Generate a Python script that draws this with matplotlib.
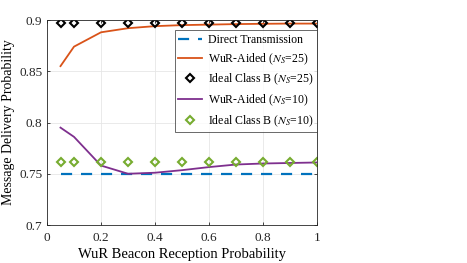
import numpy as np
import matplotlib
matplotlib.use("Agg")
import matplotlib.pyplot as plt

plt.rcParams["font.family"] = ["Liberation Serif", "DejaVu Serif"]
plt.rcParams["mathtext.fontset"] = "stix"

# data
p_beacon = [0.05, 0.1, 0.2, 0.3, 0.4, 0.5, 0.6, 0.7, 0.8, 0.9, 1.0]
direct_tx = [0.75] * len(p_beacon)
wur_25 = [0.855, 0.874, 0.888, 0.892, 0.894, 0.895, 0.8955, 0.896, 0.8963, 0.8965, 0.8965]
ideal_25 = [0.897] * len(p_beacon)
wur_10 = [0.795, 0.786, 0.758, 0.750, 0.751, 0.7535, 0.7565, 0.759, 0.760, 0.7605, 0.761]
ideal_10 = [0.761] * len(p_beacon)

fig = plt.figure(figsize=(4.67, 2.63), dpi=100)
ax = fig.add_axes([47 / 467, 38 / 263, 270 / 467, 205 / 263])

ax.plot(p_beacon, direct_tx, "--", color="#0072BD", linewidth=1.6, dashes=(5, 4),
        label="Direct Transmission")
ax.plot(p_beacon, wur_25, "-", color="#D95319", linewidth=1.3,
        label=r"WuR-Aided ($N_S$=25)")
ax.plot(p_beacon, ideal_25, "D", color="black", markerfacecolor="none",
        markeredgewidth=1.5, markersize=4, linestyle="none",
        label=r"Ideal Class B ($N_S$=25)")
ax.plot(p_beacon, wur_10, "-", color="#7E2F8E", linewidth=1.3,
        label=r"WuR-Aided ($N_S$=10)")
ax.plot(p_beacon, ideal_10, "D", color="#77AC30", markerfacecolor="none",
        markeredgewidth=1.5, markersize=4, linestyle="none",
        label=r"Ideal Class B ($N_S$=10)")

ax.set_xlim(0, 1)
ax.set_ylim(0.7, 0.9)
ax.set_xticks([0, 0.2, 0.4, 0.6, 0.8, 1])
ax.set_xticklabels(["0", "0.2", "0.4", "0.6", "0.8", "1"])
ax.set_yticks([0.7, 0.75, 0.8, 0.85, 0.9])
ax.set_yticklabels(["0.7", "0.75", "0.8", "0.85", "0.9"])
ax.tick_params(labelsize=9.5, direction="in", length=2.5, width=0.6, colors="#262626",
               top=True, right=True)
ax.tick_params(axis="x", pad=5)
ax.grid(True, color="#e6e6e6", linewidth=0.6)
ax.set_axisbelow(True)
for s in ax.spines.values():
    s.set_color("#262626")
    s.set_linewidth(0.6)

ax.set_xlabel("WuR Beacon Reception Probability", fontsize=10.5, labelpad=3)
ax.set_ylabel("Message Delivery Probability", fontsize=10, labelpad=3)

leg = ax.legend(loc="upper right", bbox_to_anchor=(1.0, 0.95), fontsize=8.5,
                frameon=True, fancybox=False, edgecolor="#262626", numpoints=1,
                borderpad=0.3, labelspacing=0.45, handlelength=2.0,
                handletextpad=0.5, borderaxespad=0.0)
leg.get_frame().set_linewidth(0.6)

fig.savefig("out.png", dpi=100, facecolor="white")
